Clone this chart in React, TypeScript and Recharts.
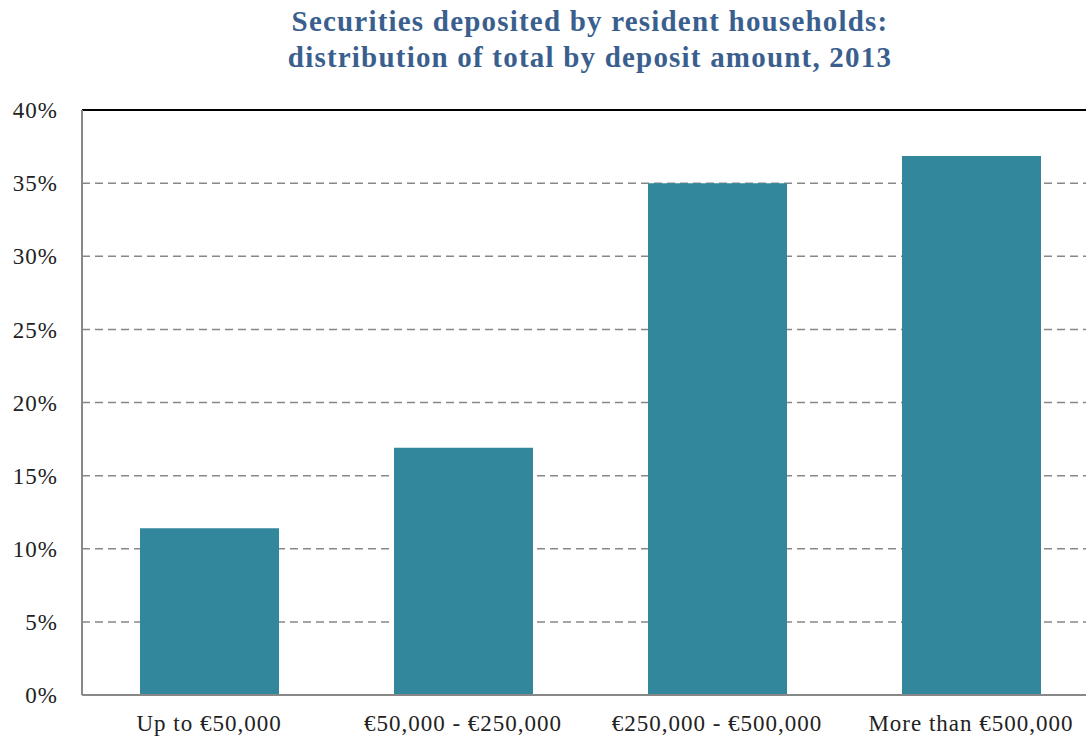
import { BarChart, Bar, XAxis, YAxis, CartesianGrid, ReferenceLine } from "recharts";

const categories = ["Up to €50,000", "€50,000 - €250,000", "€250,000 - €500,000", "More than €500,000"];
const shares = [11.4, 16.9, 35.0, 36.85];
const yTicks = [0, 5, 10, 15, 20, 25, 30, 35, 40];

const data = categories.map((name, i) => ({ name, share: shares[i] }));

const tickFont = {
  fill: "#222",
  fontSize: 23,
  letterSpacing: 1,
  fontFamily: "'Liberation Serif', serif",
};

export default function App() {
  return (
    <div
      style={{
        position: "absolute",
        left: 0,
        top: 0,
        width: 1086,
        height: 742,
        background: "#fff",
        overflow: "hidden",
      }}
    >
      <div
        style={{
          position: "absolute",
          left: 90,
          width: 1000,
          top: 3,
          textAlign: "center",
          fontFamily: "'Liberation Serif', serif",
          fontWeight: "bold",
          fontSize: 29,
          letterSpacing: 1.2,
          lineHeight: "36px",
          color: "#3A5F8F",
        }}
      >
        Securities deposited by resident households:
        <br />
        distribution of total by deposit amount, 2013
      </div>
      {/* plot runs a little past the right edge, as in the source image */}
      <BarChart
        width={1098}
        height={742}
        data={data}
        margin={{ top: 110, right: 0, left: 0, bottom: 0 }}
        barCategoryGap={0}
      >
        <CartesianGrid vertical={false} stroke="#888" strokeDasharray="8 5" strokeWidth={1.5} />
        <XAxis
          dataKey="name"
          height={47}
          tickLine={false}
          axisLine={{ stroke: "#888", strokeWidth: 2 }}
          tick={tickFont}
          tickMargin={14}
          interval={0}
        />
        <YAxis
          width={82}
          domain={[0, 40]}
          ticks={yTicks}
          tickFormatter={(v) => `${v}%`}
          tickLine={false}
          axisLine={{ stroke: "#888", strokeWidth: 2 }}
          tick={tickFont}
          tickMargin={18}
        />
        <ReferenceLine y={40} stroke="#000" strokeWidth={2} />
        <Bar dataKey="share" fill="#32879D" barSize={139} isAnimationActive={false} />
      </BarChart>
    </div>
  );
}
